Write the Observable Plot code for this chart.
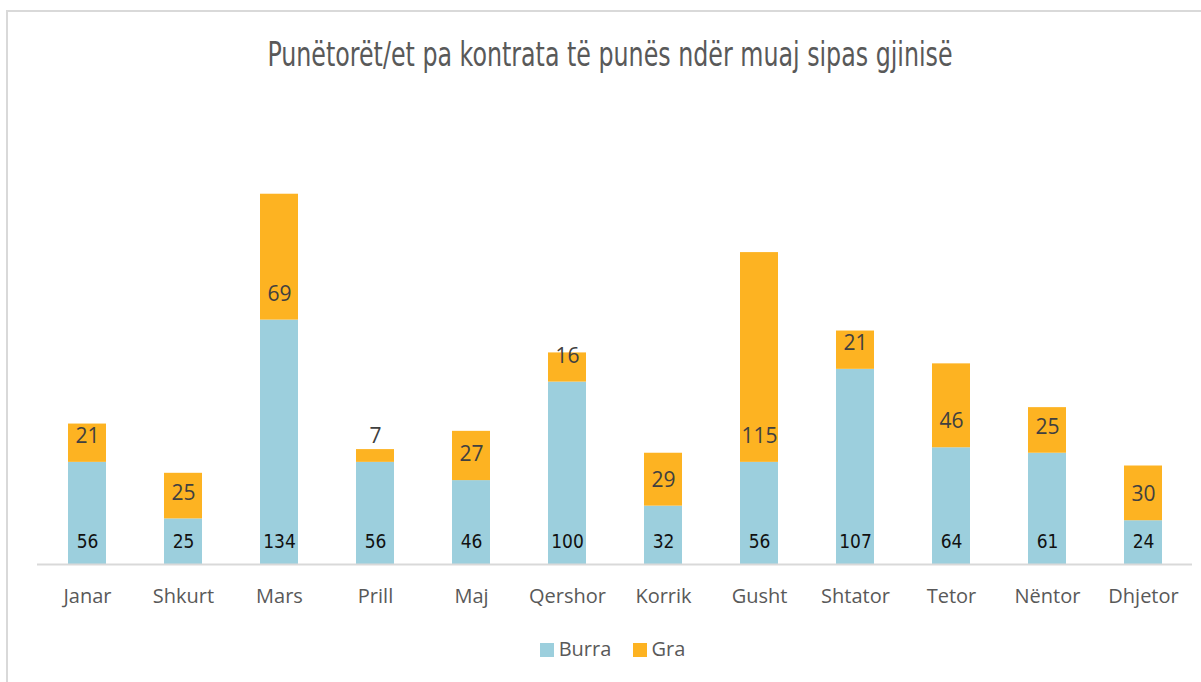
<!DOCTYPE html>
<html>
<head>
<meta charset="utf-8">
<script src="https://cdn.jsdelivr.net/npm/d3@7"></script>
<script src="https://cdn.jsdelivr.net/npm/@observablehq/plot@0.6"></script>
<style>
  body { margin: 0; background: #fff; }
  #wrap { position: relative; width: 1201px; height: 682px; overflow: hidden; background: #fff; }
  #bl { position: absolute; left: 6px; top: 10px; width: 2px; height: 672px; background: #d9d9d9; }
  #bt { position: absolute; left: 6px; top: 10px; width: 1195px; height: 2px; background: #d9d9d9; }
  #title { position: absolute; left: 0; width: 1220px; top: 35px; text-align: center;
    font-family: "DejaVu Sans Condensed", sans-serif; font-stretch: condensed; font-size: 33px;
    color: #595959; font-weight: 300; transform: scaleX(0.8); transform-origin: 610px 0; }
  #chart { position: absolute; left: 0; top: 100px; }
  #legend { position: absolute; top: 635px; left: 0; width: 1225px; text-align: center;
    font-family: "Open Sans", sans-serif; font-size: 20px; color: #595959; }
  .sw { display: inline-block; width: 14px; height: 14px; margin-right: 5px; vertical-align: -1px; }
  .item { display: inline-block; margin: 0 8px; }
</style>
</head>
<body>
<div id="wrap">
  <div id="bl"></div><div id="bt"></div>
  <div id="title">Punëtorët/et pa kontrata të punës ndër muaj sipas gjinisë</div>
  <div id="chart"></div>
  <div id="legend">
    <span class="item"><span class="sw" style="background:#9ccfdd"></span>Burra</span>
    <span class="item"><span class="sw" style="background:#fdb322"></span>Gra</span>
  </div>
</div>
<script>
const months = ["Janar","Shkurt","Mars","Prill","Maj","Qershor","Korrik","Gusht","Shtator","Tetor","Nëntor","Dhjetor"];
const burra = [56, 25, 134, 56, 46, 100, 32, 56, 107, 64, 61, 24];
const gra = [21, 25, 69, 7, 27, 16, 29, 115, 21, 46, 25, 30];
const seriesNames = ["Burra", "Gra"];
const seriesColors = ["#9ccfdd", "#fdb322"];

const rows = [];
months.forEach((m, i) => {
  rows.push({month: m, series: "Burra", value: burra[i]});
  rows.push({month: m, series: "Gra", value: gra[i]});
});
const burraLabels = months.map((m, i) => ({month: m, y: 0, v: burra[i]}));
const graLabels = months.map((m, i) => ({month: m, y: burra[i], v: gra[i]}));

const chart = Plot.plot({
  width: 1201,
  height: 520,
  marginLeft: 37,
  marginRight: 9,
  marginTop: 8,
  marginBottom: 56,
  style: {background: "transparent"},
  x: {domain: months, paddingInner: 0.605, paddingOuter: 0.3025, label: null, tickSize: 0, tickPadding: 24},
  y: {domain: [0, 250], axis: null},
  color: {domain: seriesNames, range: seriesColors},
  marks: [
    Plot.barY(rows, Plot.stackY({x: "month", y: "value", fill: "series", order: seriesNames})),
    Plot.ruleY([0], {stroke: "#d9d9d9", strokeWidth: 2}),
    Plot.text(burraLabels, {x: "month", y: "y", text: d => String(d.v), dy: -23,
      fontFamily: "'DejaVu Sans Condensed', sans-serif", fontSize: 19, fill: "#111"}),
    Plot.text(graLabels, {x: "month", y: "y", text: d => String(d.v), dy: -26,
      fontFamily: "'Open Sans', sans-serif", fontSize: 21, fill: "#404040"})
  ]
});
const axis = chart.querySelector("g[aria-label='x-axis tick label']");
if (axis) { axis.setAttribute("font-size", "20"); axis.setAttribute("font-family", "'Open Sans', sans-serif"); axis.setAttribute("fill", "#595959"); }
document.getElementById("chart").appendChild(chart);
</script>
</body>
</html>
